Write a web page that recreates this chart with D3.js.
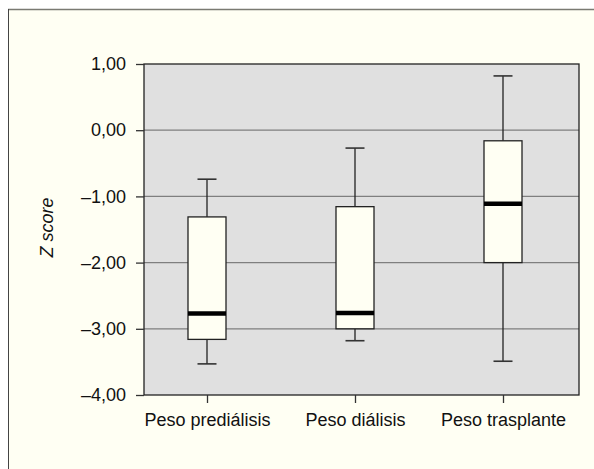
<!DOCTYPE html>
<html><head><meta charset="utf-8">
<script src="https://cdn.jsdelivr.net/npm/d3@7"></script>
<style>body{margin:0;background:#fff;}svg{display:block;}</style>
</head><body>
<script>
const categories = ["Peso prediálisis", "Peso diálisis", "Peso trasplante"];
const whiskerLow = [-3.53, -3.18, -3.49];
const q1 = [-3.16, -3.00, -2.00];
const median = [-2.77, -2.76, -1.11];
const q3 = [-1.31, -1.155, -0.16];
const whiskerHigh = [-0.74, -0.27, 0.82];
const yTicks = [1, 0, -1, -2, -3, -4];
const yLabel = "Z score";

const W = 594, H = 469;
const svg = d3.select("body").append("svg").attr("width", W).attr("height", H);
const font = "Liberation Sans, Arial, Helvetica, sans-serif";
const fs = 18;

// figure background and frame
svg.append("rect").attr("x", 8).attr("y", 9).attr("width", W - 8).attr("height", H - 9).attr("fill", "#fffff3");
svg.append("line").attr("x1", 8).attr("x2", W).attr("y1", 9.5).attr("y2", 9.5).attr("stroke", "#7a7a72").attr("stroke-width", 1.5);
svg.append("line").attr("x1", 8.5).attr("x2", 8.5).attr("y1", 9).attr("y2", H).attr("stroke", "#444").attr("stroke-width", 1);

const L = 144, R = 579, T = 64, B = 395;
const y = d3.scaleLinear().domain([-4, 1]).range([B, T]);
const x = d3.scalePoint().domain(categories).range([207, 503]);

svg.append("rect").attr("x", L).attr("y", T).attr("width", R - L).attr("height", B - T).attr("fill", "#e0e0e0");

// gridlines
svg.append("g").selectAll("line").data(yTicks.filter(t => t > -4 && t < 1)).join("line")
  .attr("x1", L).attr("x2", R).attr("y1", d => y(d)).attr("y2", d => y(d))
  .attr("stroke", "#7f7f7f").attr("stroke-width", 1.2);

svg.append("rect").attr("x", L).attr("y", T).attr("width", R - L).attr("height", B - T)
  .attr("fill", "none").attr("stroke", "#222").attr("stroke-width", 1.3);

// axes
const fmt = d => (d < 0 ? "\u2013" : "") + Math.abs(d).toFixed(2).replace(".", ",");
const yAxis = svg.append("g").attr("transform", `translate(${L},0)`)
  .call(d3.axisLeft(y).tickValues(yTicks).tickFormat(fmt).tickSize(8).tickPadding(10));
yAxis.select(".domain").remove();
yAxis.selectAll(".tick line").attr("stroke", "#333").attr("stroke-width", 1.3);
yAxis.selectAll("text").attr("font-family", font).attr("font-size", fs).attr("fill", "#111");

const xAxis = svg.append("g").attr("transform", `translate(0,${B})`)
  .call(d3.axisBottom(x).tickSize(8).tickPadding(10));
xAxis.select(".domain").remove();
xAxis.selectAll(".tick line").attr("stroke", "#333").attr("stroke-width", 1.3);
xAxis.selectAll("text").attr("font-family", font).attr("font-size", fs).attr("fill", "#111");

svg.append("text").attr("transform", `translate(53,${(T + B) / 2 - 2}) rotate(-90)`)
  .attr("text-anchor", "middle").attr("font-family", font).attr("font-size", fs)
  .attr("font-style", "italic").attr("fill", "#111").text(yLabel);

// boxes
const boxW = 38, capW = 19;
const g = svg.append("g");
categories.forEach((c, i) => {
  const cx = x(c);
  g.append("line").attr("x1", cx).attr("x2", cx).attr("y1", y(whiskerHigh[i])).attr("y2", y(q3[i]))
    .attr("stroke", "#222").attr("stroke-width", 1.3);
  g.append("line").attr("x1", cx).attr("x2", cx).attr("y1", y(q1[i])).attr("y2", y(whiskerLow[i]))
    .attr("stroke", "#222").attr("stroke-width", 1.3);
  [whiskerHigh[i], whiskerLow[i]].forEach(v => {
    g.append("line").attr("x1", cx - capW / 2).attr("x2", cx + capW / 2).attr("y1", y(v)).attr("y2", y(v))
      .attr("stroke", "#333").attr("stroke-width", 1.6);
  });
  g.append("rect").attr("x", cx - boxW / 2).attr("y", y(q3[i])).attr("width", boxW).attr("height", y(q1[i]) - y(q3[i]))
    .attr("fill", "#fffff3").attr("stroke", "#222").attr("stroke-width", 1.3);
  g.append("line").attr("x1", cx - boxW / 2).attr("x2", cx + boxW / 2).attr("y1", y(median[i])).attr("y2", y(median[i]))
    .attr("stroke", "#000").attr("stroke-width", 4.5);
});
</script>
</body></html>
